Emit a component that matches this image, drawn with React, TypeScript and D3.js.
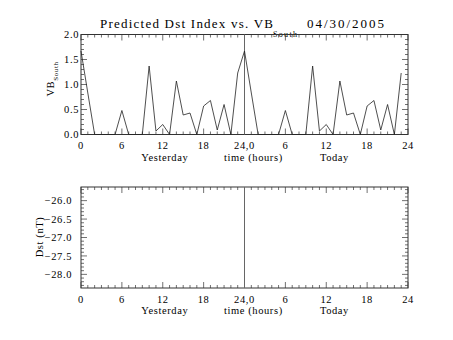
import React from "react";
import * as d3 from "d3";

const vbValues = [
  1.67, 0.83, 0, 0, 0, 0, 0.48, 0, 0, 0, 1.37, 0.07, 0.2, 0, 1.07, 0.39, 0.43, 0, 0.57, 0.68, 0.09, 0.6, 0, 1.23,
  1.67, 0.83, 0, 0, 0, 0, 0.48, 0, 0, 0, 1.37, 0.07, 0.2, 0, 1.07, 0.39, 0.43, 0, 0.57, 0.68, 0.09, 0.6, 0, 1.23,
];
const xTickLabels = ["0", "6", "12", "18", "24,0", "6", "12", "18", "24"];
const topYTicks = [0, 0.5, 1.0, 1.5, 2.0];
const dstYTicks = [-26.0, -26.5, -27.0, -27.5, -28.0];
const titleText = "Predicted Dst Index vs. VB";
const dateText = "04/30/2005";

const FONT = "'Liberation Serif', 'Times New Roman', serif";
const FS = 10.5;

function Panel({ top, bottom, yDomain, yTicks, yMinorStep, fmt, ylabel, data, labelGap, xLabelDy }: any) {
  const left = 81, right = 408;
  const x = d3.scaleLinear().domain([0, 48]).range([left, right]);
  const y = d3.scaleLinear().domain(yDomain).range([bottom, top]);
  const hours = d3.range(0, 49);
  const [lo, hi] = [Math.min(...yDomain), Math.max(...yDomain)];
  const minors: number[] = [];
  for (let v = Math.ceil(lo / yMinorStep - 1e-6) * yMinorStep; v <= hi + 1e-9; v += yMinorStep) minors.push(+v.toFixed(4));
  const line = d3.line<number>().x((_, i) => x(i)).y((d) => y(d));
  const stroke = "#333";
  return (
    <g>
      <rect x={left} y={top} width={right - left} height={bottom - top} fill="none" stroke={stroke} strokeWidth={1} />
      {hours.map((h) => {
        const major = h % 6 === 0;
        const len = major ? 6 : 3;
        return (
          <g key={h}>
            <line x1={x(h)} x2={x(h)} y1={bottom} y2={bottom - len} stroke={stroke} strokeWidth={0.7} />
            <line x1={x(h)} x2={x(h)} y1={top} y2={top + len} stroke={stroke} strokeWidth={0.7} />
          </g>
        );
      })}
      {minors.map((v, i) => {
        const major = yTicks.some((t: number) => Math.abs(t - v) < 1e-6);
        const len = major ? 6 : 3;
        return (
          <g key={"m" + i}>
            <line x1={left} x2={left + len} y1={y(v)} y2={y(v)} stroke={stroke} strokeWidth={0.7} />
            <line x1={right} x2={right - len} y1={y(v)} y2={y(v)} stroke={stroke} strokeWidth={0.7} />
          </g>
        );
      })}
      <line x1={x(24)} x2={x(24)} y1={top} y2={bottom} stroke="#666" strokeWidth={1} />
      {data && <path d={line(data) || ""} fill="none" stroke="#222" strokeWidth={0.8} />}
      {xTickLabels.map((t, i) => (
        <text key={"xl" + i} x={x(i * 6)} y={bottom + xLabelDy} textAnchor="middle" fontSize={FS} fontFamily={FONT} letterSpacing={0.6}>
          {t}
        </text>
      ))}
      <text x={x(12.3)} y={bottom + 26} textAnchor="middle" fontSize={FS} fontFamily={FONT} letterSpacing={0.6}>Yesterday</text>
      <text x={x(25.3)} y={bottom + 26} textAnchor="middle" fontSize={FS} fontFamily={FONT} letterSpacing={0.6}>time (hours)</text>
      <text x={x(37.2)} y={bottom + 26} textAnchor="middle" fontSize={FS} fontFamily={FONT} letterSpacing={0.6}>Today</text>
      {yTicks.map((t: number, i: number) => (
        <text key={"yl" + i} x={left - labelGap} y={y(t) + 3.7} textAnchor="end" fontSize={FS} fontFamily={FONT} letterSpacing={0.6}>
          {fmt(t)}
        </text>
      ))}
      {ylabel}
    </g>
  );
}

export default function App() {
  const fmt1 = (v: number) => (v < 0 ? "\u2212" + Math.abs(v).toFixed(1) : v.toFixed(1));
  return (
    <svg width={453} height={340} style={{ position: "absolute", left: 0, top: 0, background: "#fff" }}>
      <rect width={453} height={340} fill="#fff" />
      <text x={100} y={28} fontSize={13} fontFamily={FONT} textLength={173} lengthAdjust="spacing">
        {titleText}
      </text>
      <text x={273} y={37} fontSize={8} fontFamily={FONT} textLength={24} lengthAdjust="spacing">South</text>
      <text x={307} y={28} fontSize={13} fontFamily={FONT} textLength={77} lengthAdjust="spacing">{dateText}</text>
      <Panel
        top={34.5}
        bottom={134.5}
        yDomain={[0, 2]}
        yTicks={topYTicks}
        yMinorStep={0.1}
        fmt={(v: number) => v.toFixed(1)}
        data={vbValues}
        labelGap={2}
        xLabelDy={14}
        ylabel={
          <text transform="translate(54,79) rotate(-90)" textAnchor="middle" fontSize={FS} fontFamily={FONT} letterSpacing={0.6}>
            VB<tspan fontSize={7} dy={4}>South</tspan>
          </text>
        }
      />
      <Panel
        top={187}
        bottom={288}
        yDomain={[-28.37, -25.63]}
        yTicks={dstYTicks}
        yMinorStep={0.1}
        fmt={fmt1}
        data={null}
        labelGap={9}
        xLabelDy={15}
        ylabel={
          <text transform="translate(43,237) rotate(-90)" textAnchor="middle" fontSize={FS} fontFamily={FONT} letterSpacing={0.6}>
            Dst (nT)
          </text>
        }
      />
    </svg>
  );
}
